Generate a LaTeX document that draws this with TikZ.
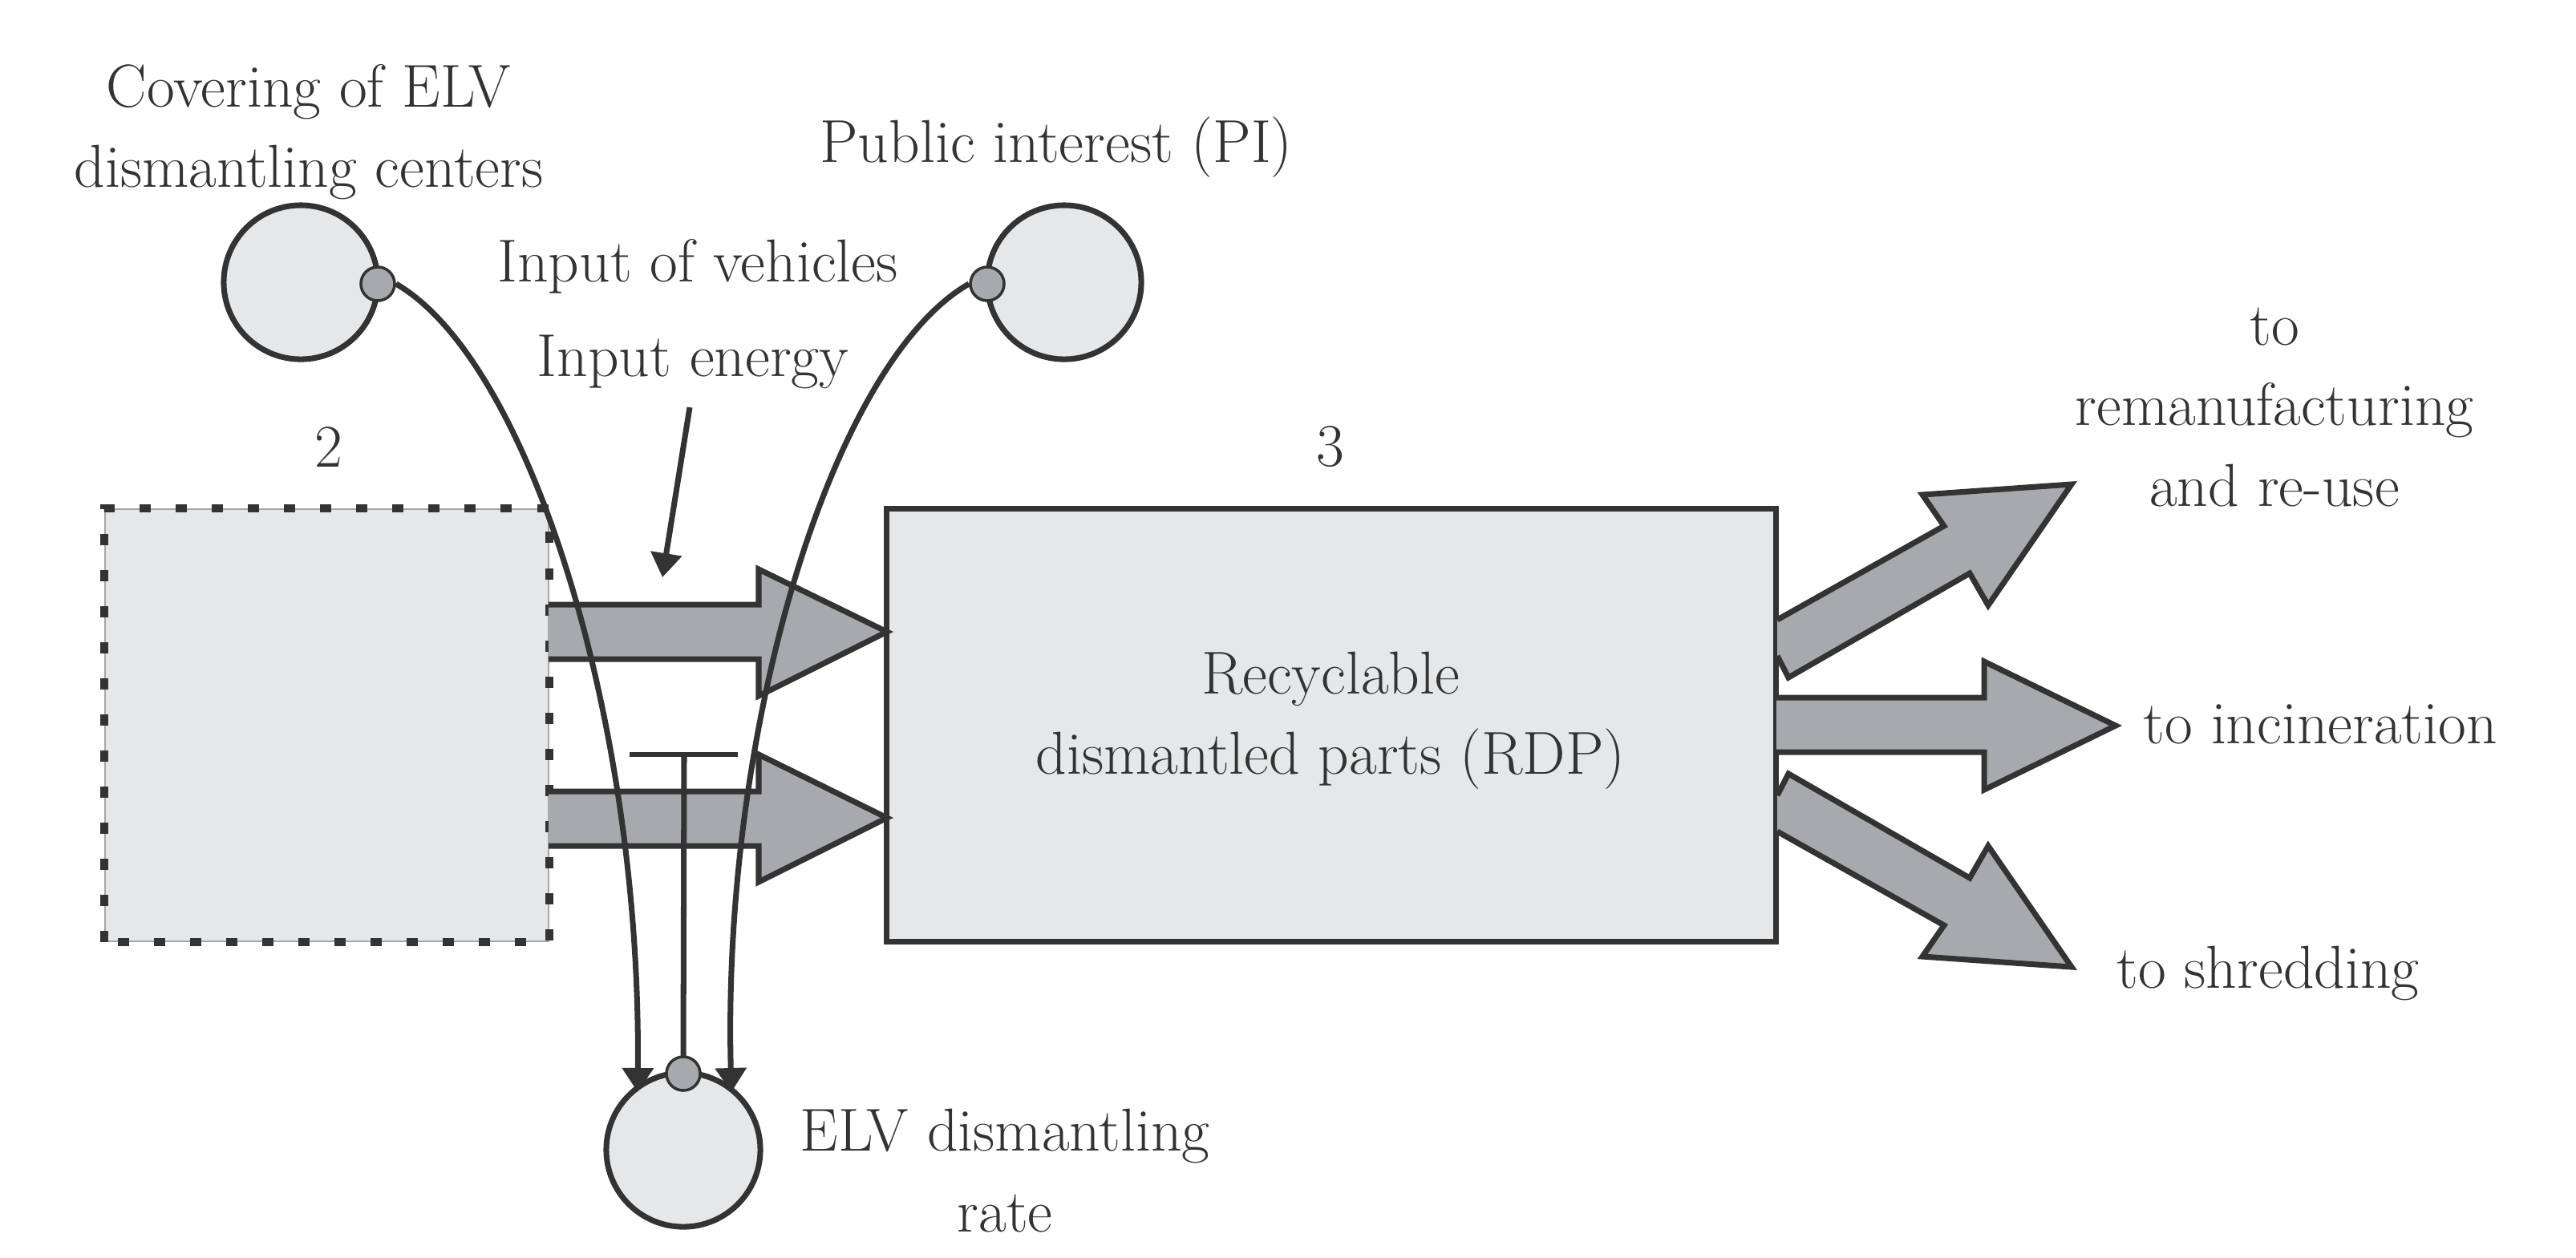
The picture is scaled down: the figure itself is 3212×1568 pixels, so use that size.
\documentclass[tikz,border=0pt]{standalone}
\usepackage{fontspec}
\usetikzlibrary{arrows.meta}
\definecolor{lg}{HTML}{E6E7E8}
\definecolor{ag}{HTML}{A8A9AC}
\definecolor{ln}{HTML}{333333}
\begin{document}
\begin{tikzpicture}[x=0.01cm,y=-0.01cm,
  lbl/.style={font=\fontsize{21.5}{28.5}\selectfont,text=ln,align=center,inner sep=0pt},
  blk/.style={draw=ln,fill=ag,line width=2pt,line join=miter},
  circ/.style={circle,draw=ln,fill=lg,line width=2pt,minimum size=1.92cm,inner sep=0pt},
  dot/.style={circle,draw=ln,fill=ag,line width=1pt,minimum size=0.42cm,inner sep=0pt},
  con/.style={draw=ln,line width=2pt,-{Triangle[length=0.3cm,width=0.38cm]}}]
\useasboundingbox (0,0) rectangle (3212,1568);
% boxes
\node[draw=gray!70,fill=lg,line width=0.5pt,minimum width=5.53cm,minimum height=5.39cm,inner sep=0pt] (b2) at (407.5,904.5) {};
\draw[ln,line width=2.6pt,dash pattern=on 0.14cm off 0.31cm] (b2.south west) rectangle (b2.north east);
\node[draw=ln,fill=lg,line width=2pt,minimum width=11.08cm,minimum height=5.39cm,inner sep=0pt] (b3) at (1660,904.5) {};
% input block arrows
\draw[blk] (684,754) -- (946,754) -- (946,710) -- (1106,788) -- (946,868) -- (946,822) -- (684,822);
\draw[blk] (684,987) -- (946,987) -- (946,941) -- (1106,1020) -- (946,1100) -- (946,1055) -- (684,1055);
% output block arrows
\draw[blk] (2215,870) -- (2474,870) -- (2474,825) -- (2638,905) -- (2474,985) -- (2474,938) -- (2215,938);
\draw[blk] (2216,773) -- (2424,656) -- (2397,617) -- (2583,604) -- (2479,755) -- (2456,715) -- (2230,845) -- (2216,818);
\draw[blk] (2216,1037) -- (2424,1154) -- (2397,1193) -- (2583,1206) -- (2479,1055) -- (2456,1095) -- (2230,965) -- (2216,992);
% circles
\node[circ] (cov) at (375,352) {};
\node[circ] (pi) at (1327,352) {};
\node[circ] (rate) at (852,1434) {};
\node[dot] (dcov) at (471,354) {};
\node[dot] (dpi) at (1231,354) {};
\coordinate (eL) at (795,1362);
\coordinate (eR) at (912,1362);
\coordinate (tbar) at (853,941);
\coordinate (tl) at (785,941);
\coordinate (tr) at (920,941);
\coordinate (es) at (860,508);
\coordinate (ee) at (826,720);
% connectors
\draw[con] (dcov.east) .. controls (660,450) and (800,900) .. (eL);
\draw[con] (dpi.west) .. controls (1040,450) and (900,900) .. (eR);
\draw[ln,line width=1.5pt] (tl) -- (tr);
\draw[ln,line width=2pt] (tbar) -- (852,1325);
\node[dot] (drate) at (852,1339) {};
\draw[con] (es) -- (ee);
% labels
\node[lbl] (t1) at (385,165) {Covering of ELV\\dismantling centers};
\node[lbl] (t2) at (1317,184) {Public interest (PI)};
\node[lbl] (t3) at (870,332) {Input of vehicles};
\node[lbl] (t4) at (864,451) {Input energy};
\node[lbl] (t5) at (410,557) {2};
\node[lbl] (t6) at (1659,557) {3};
\node[lbl] (t7) at (1659,899) {Recyclable\\dismantled parts (RDP)};
\node[lbl] (t8) at (2836,508) {to\\remanufacturing\\and re-use};
\node[lbl,anchor=west] (t9) at (2672,903) {to incineration};
\node[lbl] (t10) at (2828,1214) {to shredding};
\node[lbl] (t11) at (1253,1460) {ELV dismantling\\rate};
\end{tikzpicture}
\end{document}
